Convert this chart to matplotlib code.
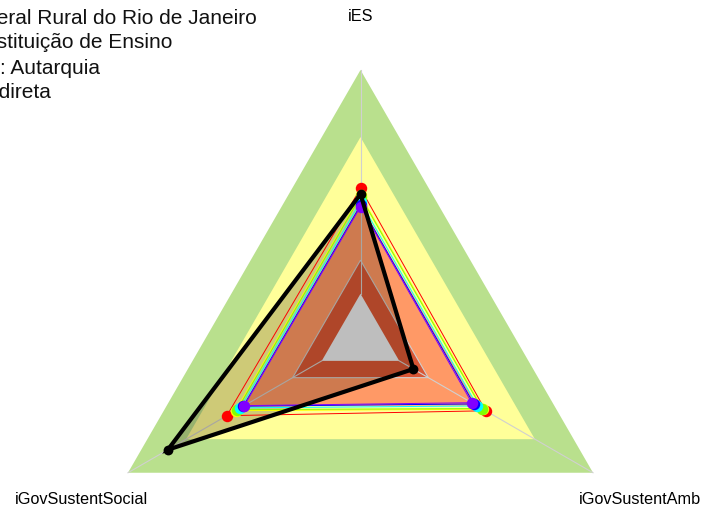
import numpy as np
import matplotlib
matplotlib.use("Agg")
import matplotlib.pyplot as plt
from matplotlib.patches import Polygon

plt.rcParams['font.family'] = ['Liberation Sans', 'DejaVu Sans']

# ---------------- data ----------------
axes_labels = ["iES", "iGovSustentSocial", "iGovSustentAmb"]
band_levels = [1.00, 0.70, 0.40, 0.15, 0.00]
band_colors = ["#B9E08D", "#FFFF99", "#FF9966", "#D85635", "#BEBEBE"]

series_names = ["s1", "s2", "s3", "s4", "s5", "s6"]
series_colors = ["#FF0000", "#FFFF00", "#80FF00", "#00FFFF", "#0000FF", "#8000FF"]
s_iES    = [0.471, 0.440, 0.434, 0.411, 0.395, 0.389]
s_social = [0.490, 0.445, 0.436, 0.420, 0.405, 0.400]
s_amb    = [0.446, 0.432, 0.426, 0.403, 0.385, 0.374]

inst_values = [0.445, 0.794, 0.073]   # iES, iGovSustentSocial, iGovSustentAmb

title_lines = ["Universidade Federal Rural do Rio de Janeiro",
               "Tipo: Instituição de Ensino",
               "Natureza Jurídica: Autarquia",
               "Administração Indireta"]

# ---------------- geometry ----------------
W, H = 702, 511
cx, cy, R = 360.5, 338.5, 268.5
angles = np.deg2rad([90, 210, 330])
hole = 1.0 / 6.0

def rad(v):
    return hole + np.asarray(v) * (1 - hole)

def xy(vals):
    r = rad(vals)
    return np.column_stack([r * np.cos(angles), r * np.sin(angles)])

fig = plt.figure(figsize=(W / 100, H / 100), dpi=100)
ax = fig.add_axes([0, 0, 1, 1])
ax.set_xlim((0 - cx) / R, (W - cx) / R)
ax.set_ylim((cy - H) / R, (cy - 0) / R)
ax.axis("off")

# bands
for lvl, col in zip(band_levels[:-1], band_colors[:-1]):
    ec = "#CFCFCF" if lvl == 0.15 else "none"
    ax.add_patch(Polygon(xy([lvl] * 3), closed=True, facecolor=col,
                         edgecolor=ec, lw=0.8, zorder=1))

# axis lines
for a in angles:
    ax.plot([hole * np.cos(a), np.cos(a)], [hole * np.sin(a), np.sin(a)],
            color="#D0D0D0", lw=0.8, zorder=2)

# institution fill
ax.add_patch(Polygon(xy(inst_values), closed=True, facecolor="#201000",
                     alpha=0.22, edgecolor="none", zorder=3))

# grey hole
ax.add_patch(Polygon(xy([band_levels[-1]] * 3), closed=True,
                     facecolor=band_colors[-1], edgecolor="none", zorder=4))

# reference series
for i, col in enumerate(series_colors):
    p = xy([s_iES[i], s_social[i], s_amb[i]])
    pc = np.vstack([p, p[:1]])
    ax.plot(pc[:, 0], pc[:, 1], color=col, lw=0.7, zorder=5 + i * 0.1)
    ax.scatter(p[:, 0], p[:, 1], s=68, color=col, zorder=5.05 + i * 0.1,
               linewidths=0)

# institution line
p = xy(inst_values)
pc = np.vstack([p, p[:1]])
ax.plot(pc[:, 0], pc[:, 1], color="black", lw=3.0, zorder=7,
        solid_joinstyle="miter")
ax.scatter(p[:, 0], p[:, 1], s=50, color="black", zorder=7.1, linewidths=0)

# axis labels
for lab, a in zip(axes_labels, angles):
    ax.text(1.2 * np.cos(a), 1.2 * np.sin(a), lab, ha="center", va="center",
            fontsize=11.7, color="black")

# title lines (clipped at left)
rights = [257, 172, 100.5, 50.5]
for k, (t, rx) in enumerate(zip(title_lines, rights)):
    fig.text(rx / W, 1 - (23.5 + 25 * k) / H, t, ha="right", va="baseline",
             fontsize=15, color="#111111")

fig.savefig("out.png", dpi=100)
